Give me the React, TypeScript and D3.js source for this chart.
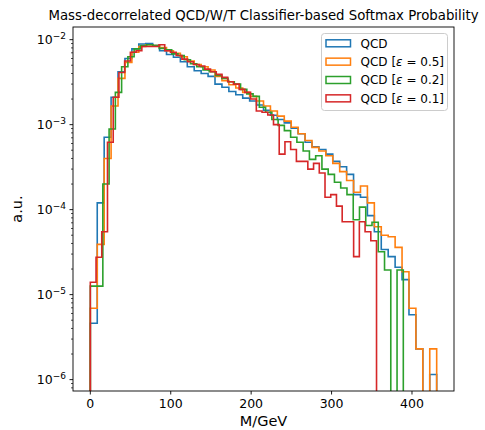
import React, { useEffect, useRef } from "react";
import * as d3 from "d3";

// normalised histograms, 50 bins each (a.u.)
const qcd = [
  4.6e-6, 1.2e-4, 7.1e-4, 2.1e-3, 4.2e-3, 6.0e-3, 7.8e-3, 8.9e-3, 9.0e-3, 8.5e-3,
  7.4e-3, 6.7e-3, 6.2e-3, 5.5e-3, 4.8e-3, 4.3e-3, 4.0e-3, 3.7e-3, 3.0e-3, 2.75e-3,
  2.45e-3, 2.25e-3, 2.05e-3, 1.9e-3, 1.7e-3, 1.48e-3, 1.29e-3, 1.15e-3, 1.05e-3, 9.1e-4,
  7.8e-4, 6.2e-4, 5.5e-4, 5.1e-4, 4.5e-4, 3.7e-4, 3.2e-4, 2.6e-4, 1.5e-4, 1.4e-4,
  8.5e-5, 5.5e-5, 3.4e-5, 2.8e-5, 2.1e-5, 1.5e-5, 5.8e-6, 2.3e-6, 0, 1.15e-6,
];
const qcdEps05 = [
  6.9e-6, 3.9e-5, 4.0e-4, 1.66e-3, 3.5e-3, 5.4e-3, 7.1e-3, 8.3e-3, 8.7e-3, 8.5e-3,
  8.1e-3, 7.4e-3, 6.9e-3, 6.3e-3, 5.6e-3, 5.1e-3, 4.8e-3, 4.4e-3, 3.7e-3, 3.3e-3,
  2.95e-3, 2.7e-3, 2.4e-3, 2.15e-3, 1.9e-3, 1.66e-3, 1.45e-3, 1.26e-3, 1.1e-3, 9.3e-4,
  7.8e-4, 6.5e-4, 5.4e-4, 4.9e-4, 4.3e-4, 3.5e-4, 2.8e-4, 2.2e-4, 1.6e-4, 1.9e-4,
  1.2e-4, 6.3e-5, 5.0e-5, 4.8e-5, 3.6e-5, 1.86e-5, 6.9e-6, 2.3e-6, 0, 2.3e-6,
];
const qcdEps02 = [
  1.26e-5, 1.26e-5, 2.0e-4, 8.9e-4, 2.4e-3, 4.8e-3, 6.3e-3, 7.8e-3, 8.5e-3, 8.7e-3,
  8.5e-3, 7.9e-3, 7.6e-3, 6.8e-3, 6.5e-3, 5.8e-3, 5.2e-3, 4.8e-3, 4.4e-3, 4.2e-3,
  3.8e-3, 3.5e-3, 3.2e-3, 3.0e-3, 2.6e-3, 2.3e-3, 2.15e-3, 1.6e-3, 1.4e-3, 1.15e-3,
  9.8e-4, 8.5e-4, 7.1e-4, 6.2e-4, 4.9e-4, 3.9e-4, 4.3e-4, 3.0e-4, 2.6e-4, 2.1e-4,
  1.8e-4, 1.5e-4, 7.6e-5, 1.07e-4, 6.5e-5, 7.1e-5, 3.2e-5, 1.95e-5, 0, 1.95e-5,
];
const qcdEps01 = [
  1.4e-5, 2.75e-5, 5.5e-5, 6.2e-4, 2.1e-3, 4.1e-3, 5.6e-3, 7.1e-3, 7.4e-3, 8.3e-3,
  8.3e-3, 8.3e-3, 8.7e-3, 7.4e-3, 7.1e-3, 6.5e-3, 5.9e-3, 5.5e-3, 5.1e-3, 4.9e-3,
  4.5e-3, 4.2e-3, 3.9e-3, 3.6e-3, 3.2e-3, 3.0e-3, 2.6e-3, 2.4e-3, 2.0e-3, 1.45e-3,
  1.4e-3, 1.3e-3, 1.0e-3, 4.5e-4, 6.3e-4, 5.1e-4, 3.7e-4, 3.7e-4, 3.0e-4, 3.5e-4,
  2.7e-4, 1.4e-4, 1.5e-4, 1.1e-4, 7.2e-5, 7.2e-5, 2.8e-5, 7.2e-5, 5.5e-5, 4.3e-5,
];

// upper edge of each series' binning (GeV), all start at 0
const massMax = [430.7, 430.7, 389.2, 355.9];
const epsilons = ["", "0.5", "0.2", "0.1"];
const colors = ["#1f77b4", "#ff7f0e", "#2ca02c", "#d62728"];
const xTicks = [0, 100, 200, 300, 400];

const font = "DejaVu Sans, sans-serif";

export default function App() {
  const ref = useRef<SVGSVGElement>(null);

  useEffect(() => {
    const svg = d3.select(ref.current);
    svg.selectAll("*").remove();

    const left = 73, right = 454, top = 27, bottom = 391;
    const series = [qcd, qcdEps05, qcdEps02, qcdEps01];

    const xMax = d3.max(massMax) as number;
    const x = d3.scaleLinear().domain([-0.05 * xMax, 1.05 * xMax]).range([left, right]);

    const positive = series.flat().filter((v) => v > 0);
    const lo = Math.log10(d3.min(positive) as number);
    const hi = Math.log10(d3.max(positive) as number);
    const pad = 0.05 * (hi - lo);
    const y = d3.scaleLog().domain([10 ** (lo - pad), 10 ** (hi + pad)]).range([bottom, top]);

    svg.append("rect").attr("width", 485).attr("height", 430).attr("fill", "#fff");

    svg.append("clipPath").attr("id", "plotclip")
      .append("rect").attr("x", left).attr("y", top)
      .attr("width", right - left).attr("height", bottom - top);

    const line = d3.line<[number, number]>();
    const yv = (v: number) => (v > 0 ? y(v) : bottom + 20);

    const g = svg.append("g").attr("clip-path", "url(#plotclip)");
    series.forEach((vals, s) => {
      const w = massMax[s] / vals.length;
      const pts: [number, number][] = [[x(0), bottom + 20]];
      vals.forEach((v, i) => {
        pts.push([x(i * w), yv(v)]);
        pts.push([x((i + 1) * w), yv(v)]);
      });
      pts.push([x(massMax[s]), bottom + 20]);
      g.append("path")
        .attr("d", line(pts))
        .attr("fill", "none")
        .attr("stroke", colors[s])
        .attr("stroke-width", 1.6)
        .attr("stroke-linejoin", "miter");
    });

    // frame
    svg.append("rect")
      .attr("x", left).attr("y", top)
      .attr("width", right - left).attr("height", bottom - top)
      .attr("fill", "none").attr("stroke", "#000").attr("stroke-width", 0.9);

    // x ticks
    xTicks.forEach((t) => {
      svg.append("line")
        .attr("x1", x(t)).attr("x2", x(t))
        .attr("y1", bottom).attr("y2", bottom + 3.5)
        .attr("stroke", "#000").attr("stroke-width", 0.9);
      svg.append("text")
        .attr("x", x(t)).attr("y", bottom + 17)
        .attr("text-anchor", "middle")
        .attr("font-family", font).attr("font-size", 12.5)
        .text(t);
    });

    // y ticks, log decades + minors
    const [d0, d1] = y.domain();
    for (let k = Math.floor(Math.log10(d0)); k <= Math.ceil(Math.log10(d1)); k++) {
      for (let m = 1; m < 10; m++) {
        const v = m * 10 ** k;
        if (v < d0 || v > d1) continue;
        const major = m === 1;
        svg.append("line")
          .attr("x1", left).attr("x2", left - (major ? 3.5 : 2))
          .attr("y1", y(v)).attr("y2", y(v))
          .attr("stroke", "#000").attr("stroke-width", major ? 0.9 : 0.7);
        if (major) {
          const tx = svg.append("text")
            .attr("x", left - 7).attr("y", y(v) + 4.5)
            .attr("text-anchor", "end")
            .attr("font-family", font).attr("font-size", 12.5);
          tx.append("tspan").text("10");
          tx.append("tspan").attr("dy", -5.5).attr("font-size", 9).text("\u2212" + -k);
        }
      }
    }

    svg.append("text")
      .attr("x", (left + right) / 2).attr("y", 426)
      .attr("text-anchor", "middle")
      .attr("font-family", font).attr("font-size", 14.5)
      .text("M/GeV");

    svg.append("text")
      .attr("transform", `translate(22,${(top + bottom) / 2}) rotate(-90)`)
      .attr("text-anchor", "middle")
      .attr("font-family", font).attr("font-size", 14.5)
      .text("a.u.");

    svg.append("text")
      .attr("x", (left + right) / 2).attr("y", 20)
      .attr("text-anchor", "middle")
      .attr("font-family", font).attr("font-size", 13.3)
      .text("Mass-decorrelated QCD/W/T Classifier-based Softmax Probability");

    // legend
    const lg = svg.append("g");
    lg.append("rect")
      .attr("x", 321.5).attr("y", 33.5).attr("width", 126).attr("height", 77)
      .attr("rx", 3).attr("fill", "#fff").attr("fill-opacity", 0.8)
      .attr("stroke", "#cccccc").attr("stroke-width", 1);
    epsilons.forEach((e, i) => {
      const cy = 43.3 + i * 18.35;
      lg.append("rect")
        .attr("x", 326).attr("y", cy - 3.5).attr("width", 24.5).attr("height", 7)
        .attr("fill", "none").attr("stroke", colors[i]).attr("stroke-width", 1.5);
      const t = lg.append("text")
        .attr("x", 360.5).attr("y", cy + 4.4)
        .attr("font-family", font).attr("font-size", 12);
      t.append("tspan").text(e ? "QCD [" : "QCD");
      if (e) {
        t.append("tspan").attr("font-style", "italic").text("\u03b5");
        t.append("tspan").text(" = " + e + "]");
      }
    });
  }, []);

  return (
    <svg
      ref={ref}
      width={485}
      height={430}
      style={{ position: "absolute", left: 0, top: 0, display: "block" }}
    />
  );
}
